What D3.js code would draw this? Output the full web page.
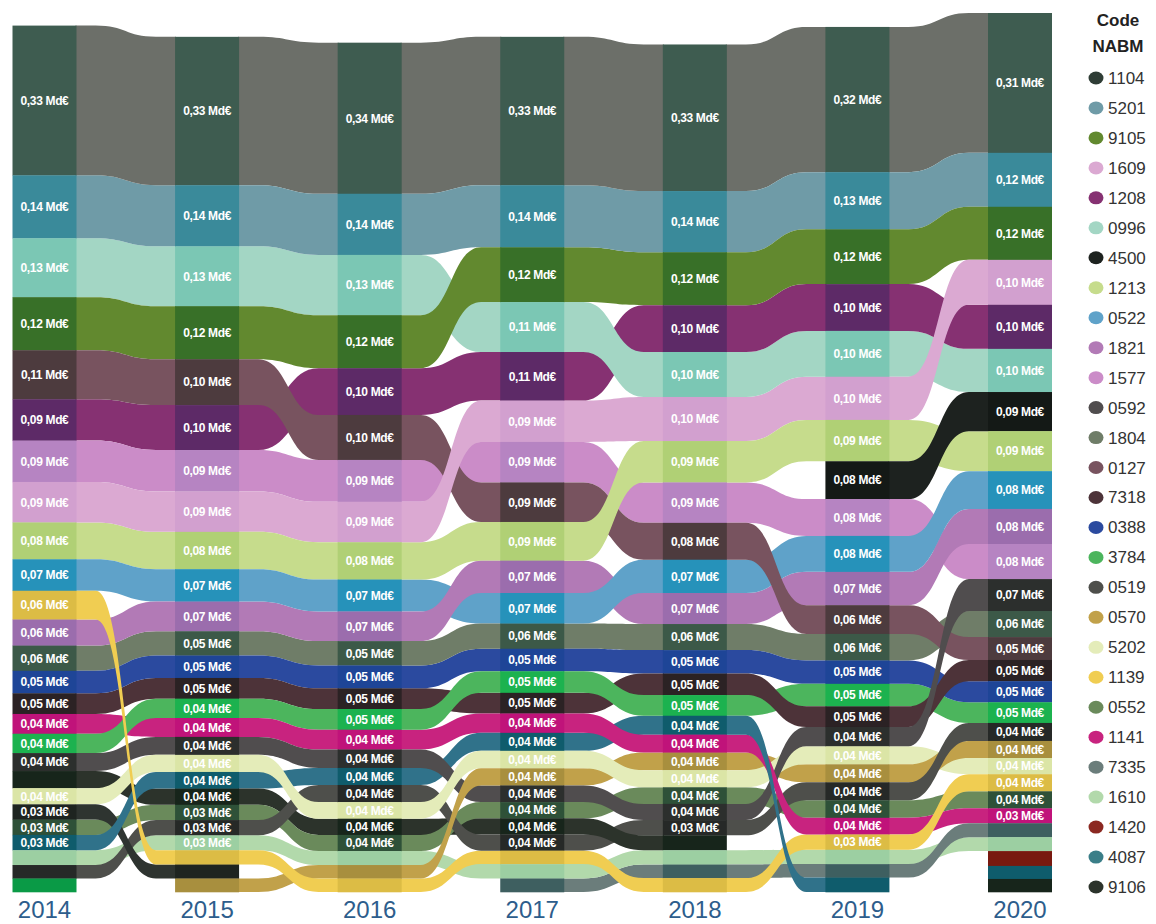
<!DOCTYPE html>
<html><head><meta charset="utf-8">
<script src="https://cdn.jsdelivr.net/npm/d3@7/dist/d3.min.js"></script>
<style>body{margin:0;background:#fff}svg{display:block}</style>
</head><body>
<svg id="chart" width="1156" height="924"></svg>
<script>
// ---------- DATA ----------
const years = [2014, 2015, 2016, 2017, 2018, 2019, 2020];
const legendCodes = ['1104','5201','9105','1609','1208','0996','4500','1213','0522','1821','1577','0592','1804','0127','7318','0388','3784','0519','0570','5202','1139','0552','1141','7335','1610','1420','4087','9106'];

const order2014 = ['1104','5201','0996','9105','0127','1208','1577','1609','1213','0522','1139','1821','1804','0388','7318','1141','3784','0592','9106','5202','hors1','0552','4087','1610','0519','hors2'];
const values2014 = [0.333,0.14,0.131,0.118,0.109,0.092,0.092,0.09,0.082,0.07,0.064,0.058,0.056,0.05,0.046,0.044,0.043,0.04,0.038,0.036,0.034,0.034,0.034,0.033,0.03,0.03];

const order2015 = ['1104','5201','0996','9105','0127','1208','1577','1609','1213','0522','1821','1804','0388','7318','3784','1141','0592','5202','4087','9106','0552','0519','1610','1139','hors1','0570'];
const values2015 = [0.33,0.136,0.133,0.118,0.102,0.1,0.092,0.09,0.083,0.072,0.066,0.054,0.05,0.046,0.043,0.042,0.04,0.038,0.037,0.036,0.034,0.034,0.033,0.032,0.031,0.03];

const order2016 = ['1104','5201','0996','9105','1208','0127','1577','1609','1213','0522','1821','1804','0388','7318','3784','1141','0592','4087','0519','5202','9106','0552','1610','0570','1139'];
const values2016 = [0.336,0.136,0.134,0.118,0.104,0.1,0.093,0.09,0.083,0.071,0.066,0.054,0.051,0.046,0.046,0.044,0.041,0.038,0.038,0.037,0.036,0.036,0.031,0.03,0.03];

const order2017 = ['1104','5201','9105','0996','1208','1609','1577','0127','1213','1821','0522','1804','0388','3784','7318','1141','4087','5202','0570','0592','0552','9106','0519','1139','1610','7335'];
const values2017 = [0.33,0.138,0.122,0.111,0.108,0.092,0.09,0.088,0.086,0.072,0.068,0.056,0.05,0.048,0.046,0.043,0.04,0.039,0.038,0.037,0.036,0.036,0.036,0.03,0.032,0.03];

const order2018 = ['1104','5201','9105','1208','0996','1609','1213','1577','0127','0522','1821','1804','0388','7318','3784','4087','1141','0570','5202','0552','0592','0519','9106','1610','7335','1139'];
const values2018 = [0.326,0.136,0.118,0.104,0.1,0.098,0.092,0.09,0.082,0.074,0.069,0.058,0.052,0.048,0.046,0.042,0.04,0.039,0.038,0.037,0.036,0.034,0.033,0.032,0.03,0.031];

const order2019 = ['1104','5201','9105','1208','0996','1609','1213','4500','1577','0522','1821','0127','1804','0388','3784','7318','0592','5202','0570','0519','0552','1141','1139','1610','7335','4087'];
const values2019 = [0.323,0.127,0.122,0.104,0.102,0.096,0.092,0.084,0.082,0.08,0.074,0.064,0.059,0.052,0.05,0.046,0.043,0.04,0.04,0.04,0.039,0.037,0.034,0.032,0.03,0.032];

const order2020 = legendCodes.slice();
const values2020 = [0.311,0.12,0.118,0.1,0.098,0.096,0.087,0.089,0.084,0.078,0.078,0.071,0.058,0.051,0.047,0.047,0.046,0.04,0.038,0.036,0.038,0.038,0.033,0.031,0.031,0.033,0.029,0.029];

const orders = [order2014, order2015, order2016, order2017, order2018, order2019, order2020];
const values = [values2014, values2015, values2016, values2017, values2018, values2019, values2020];
const labelCounts = [23, 23, 22, 23, 22, 23, 23];
const hiddenLabels = [['9106', 2014]];
const noLinks = [['4087', 2019]];

// ---------- STYLE ----------
const nodeColors = {
 '1104':'#3e5c50','5201':'#3a8a9a','9105':'#387028','1609':'#d2a0cf','1208':'#5d2a67','0996':'#7bc7b4',
 '4500':'#141916','1213':'#b0d075','0522':'#2692ba','1821':'#9b6dad','1577':'#b684c2','0592':'#2c2f2d',
 '1804':'#3c5948','0127':'#4d3b3e','7318':'#2b2224','0388':'#1e4597','3784':'#1cb24f','0519':'#262927',
 '0570':'#a88f3e','5202':'#dbe5a6','1139':'#dcbc45','0552':'#2e5138','1141':'#c0137a','7335':'#3e5f60',
 '1610':'#9ccfa2','1420':'#78190f','4087':'#0f5c6c','9106':'#17251b','hors1':'#1e2420','hors2':'#0a9a46'};
const linkColors = {
 '1104':'#6c6f69','5201':'#6f9ba7','9105':'#62892f','1609':'#dba9d2','1208':'#863172','0996':'#a3d6c4',
 '4500':'#1d221f','1213':'#c6dc8c','0522':'#5fa2c9','1821':'#b27ab6','1577':'#cb8cc8','0592':'#504d4e',
 '1804':'#6f7d68','0127':'#78535f','7318':'#4d3339','0388':'#2b4a9f','3784':'#4cb55d','0519':'#4e4f4b',
 '0570':'#c1a14a','5202':'#e4ecb9','1139':'#f0cd52','0552':'#6a8a5b','1141':'#c8237f','7335':'#6b7d7b',
 '1610':'#b2d9ab','1420':'#8b2821','4087':'#30728a','9106':'#2c332b','hors1':'#2e3430','hors2':'#1fa04e'};
const legendOverride = {'1104':'#2f3d36','4087':'#3a7e88'};

// ---------- LAYOUT ----------
const svg = d3.select('#chart');
const colW = 64;
const x = d3.scalePoint().domain(years).range([44.5, 1020]);
const totals = values.map(v => d3.sum(v));
const y = d3.scaleLinear().domain([0, d3.max(totals)]).range([892, 13]);

const layout = years.map((yr, i) => {
  let acc = totals[i];
  return orders[i].map((code, j) => {
    const v = values[i][j];
    const y0 = y(acc); acc -= v; const y1 = y(acc);
    const hidden = hiddenLabels.some(h => h[0] === code && h[1] === yr);
    return {code, year: yr, v, y0, y1, labeled: j < labelCounts[i] && !hidden};
  });
});

const links = [];
for (let i = 0; i < years.length - 1; i++) {
  layout[i].forEach(s => {
    if (noLinks.some(n => n[0] === s.code && n[1] === s.year)) return;
    const t = layout[i + 1].find(n => n.code === s.code);
    if (t) links.push({s, t});
  });
}
// steeper ribbons drawn last (on top)
links.sort((a, b) => Math.abs(a.t.y0 - a.s.y0) - Math.abs(b.t.y0 - b.s.y0));

function ribbon(d) {
  const x0 = x(d.s.year) + colW / 2 - 1, x1 = x(d.t.year) - colW / 2 + 1;
  const g = x1 - x0, xa = x0 + g * 0.2, xb = x1 - g * 0.2, xm = (x0 + x1) / 2;
  const p = d3.path();
  p.moveTo(x0, d.s.y0); p.lineTo(xa, d.s.y0);
  p.bezierCurveTo(xm, d.s.y0, xm, d.t.y0, xb, d.t.y0);
  p.lineTo(x1, d.t.y0); p.lineTo(x1, d.t.y1); p.lineTo(xb, d.t.y1);
  p.bezierCurveTo(xm, d.t.y1, xm, d.s.y1, xa, d.s.y1);
  p.lineTo(x0, d.s.y1); p.closePath();
  return p.toString();
}

svg.append('g').selectAll('path').data(links).join('path')
  .attr('d', ribbon).attr('fill', d => linkColors[d.s.code]);

const allNodes = layout.flat();
svg.append('g').selectAll('rect').data(allNodes).join('rect')
  .attr('x', d => x(d.year) - colW / 2).attr('width', colW)
  .attr('y', d => d.y0).attr('height', d => d.y1 - d.y0 + 0.3)
  .attr('fill', d => nodeColors[d.code]);

const fmt = v => (Math.round(v * 100) / 100).toFixed(2).replace('.', ',') + ' Md€';
svg.append('g').selectAll('text').data(allNodes.filter(d => d.labeled)).join('text')
  .attr('x', d => x(d.year)).attr('y', d => (d.y0 + d.y1) / 2).attr('dy', '0.36em')
  .attr('text-anchor', 'middle').attr('fill', '#fff')
  .style('font', 'bold 12px "Liberation Sans", Arial, sans-serif').style('letter-spacing', '-0.35px')
  .text(d => fmt(d.v));

svg.append('g').selectAll('text').data(years).join('text')
  .attr('x', d => x(d)).attr('y', 918).attr('text-anchor', 'middle')
  .attr('fill', '#2d5d8c').style('font', '24px "Liberation Sans", Arial, sans-serif')
  .text(d => d);

// ---------- LEGEND ----------
const lg = svg.append('g');
lg.append('text').attr('x', 1118).attr('y', 26).attr('text-anchor', 'middle')
  .style('font', 'bold 17px "Liberation Sans", Arial, sans-serif').attr('fill', '#222').text('Code');
lg.append('text').attr('x', 1118).attr('y', 52).attr('text-anchor', 'middle')
  .style('font', 'bold 17px "Liberation Sans", Arial, sans-serif').attr('fill', '#222').text('NABM');
const ly = d3.scalePoint().domain(legendCodes).range([78, 887]);
const items = lg.selectAll('g.item').data(legendCodes).join('g').attr('class', 'item')
  .attr('transform', d => `translate(0,${ly(d)})`);
items.append('ellipse').attr('cx', 1096).attr('cy', 0).attr('rx', 7.5).attr('ry', 6.5)
  .attr('fill', d => legendOverride[d] || linkColors[d]);
items.append('text').attr('x', 1108).attr('y', 6)
  .style('font', '17px "Liberation Sans", Arial, sans-serif').attr('fill', '#333').text(d => d);
</script>
</body></html>
